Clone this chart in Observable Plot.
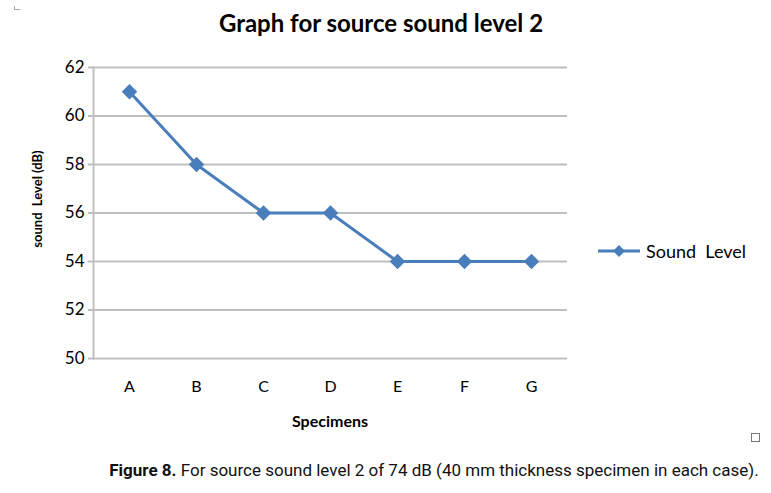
<!DOCTYPE html>
<html><head><meta charset="utf-8">
<script src="https://cdn.jsdelivr.net/npm/d3@7"></script>
<script src="https://cdn.jsdelivr.net/npm/@observablehq/plot@0.6"></script>
<style>
body{margin:0;background:#fff;}
#wrap{position:relative;width:771px;height:493px;overflow:hidden;font-family:Lato,"Open Sans",sans-serif;}
#chart{position:absolute;left:0;top:0;}
#title{position:absolute;left:0;width:762px;top:8px;text-align:center;font-weight:bold;font-size:24px;color:#000;}
#ylabel{position:absolute;left:37px;top:199px;transform:translate(-50%,-50%) rotate(-90deg);white-space:nowrap;font-weight:bold;font-size:13px;}
#xlabel{position:absolute;left:330px;top:420px;transform:translate(-50%,-50%);font-weight:bold;font-size:16px;}
#legend{position:absolute;left:597px;top:240px;display:flex;align-items:center;font-size:18px;}
#legend span{margin-left:5px;}
#caption{position:absolute;left:0;width:868px;top:460px;text-align:center;font-family:"Liberation Sans Narrow","Roboto",sans-serif;font-size:17px;color:#111;}
#sq{position:absolute;left:751px;top:433px;width:7px;height:7px;border:1px solid #777;}
#corner{position:absolute;left:14px;top:6px;width:5px;height:3px;border-left:1px solid #aaa;border-bottom:1px solid #aaa;}
</style></head><body>
<div id="wrap">
<div id="chart"></div>
<div id="title">Graph for source sound level 2</div>
<div id="ylabel">sound&nbsp; Level (dB)</div>
<div id="xlabel">Specimens</div>
<div id="legend"><svg width="44" height="16"><line x1="1" x2="43" y1="8" y2="8" stroke="#4a7ebb" stroke-width="3"/><path d="M22,2L28,8L22,14L16,8Z" fill="#4a7ebb"/></svg><span>Sound&nbsp; Level</span></div>
<div id="caption"><b>Figure 8.</b> For source sound level 2 of 74 dB (40 mm thickness specimen in each case).</div>
<div id="sq"></div>
<div id="corner"></div>
</div>
<script>
const specimens = ["A","B","C","D","E","F","G"];
const soundLevel = [61,58,56,56,54,54,54];
const yTicks = [50,52,54,56,58,60,62];
const data = specimens.map((s,i)=>({specimen:s, level:soundLevel[i]}));
const chart = Plot.plot({
  width:771, height:440,
  marginLeft:93, marginRight:204, marginTop:67, marginBottom:82,
  style:{fontFamily:"Lato, 'Open Sans', sans-serif", background:"transparent", color:"#000"},
  x:{type:"point", domain:specimens, padding:0.5},
  y:{domain:[50,62]},
  marks:[
    Plot.gridY(yTicks,{stroke:"#bfbfbf", strokeOpacity:1, strokeWidth:2}),
    Plot.frame({anchor:"left", stroke:"#bfbfbf", strokeWidth:2}),
    Plot.axisY(yTicks,{tickSize:5, tickPadding:4, fontSize:17, stroke:"#bfbfbf", strokeWidth:2, fill:"#000", label:null}),
    Plot.axisX({tickSize:0, tickPadding:22, fontSize:16, fill:"#000", label:null}),
    Plot.line(data,{x:"specimen", y:"level", stroke:"#4a7ebb", strokeWidth:3}),
    Plot.dot(data,{x:"specimen", y:"level", symbol:"diamond2", r:7, fill:"#4a7ebb", stroke:"none"})
  ]
});
document.getElementById("chart").appendChild(chart);
</script>
</body></html>
